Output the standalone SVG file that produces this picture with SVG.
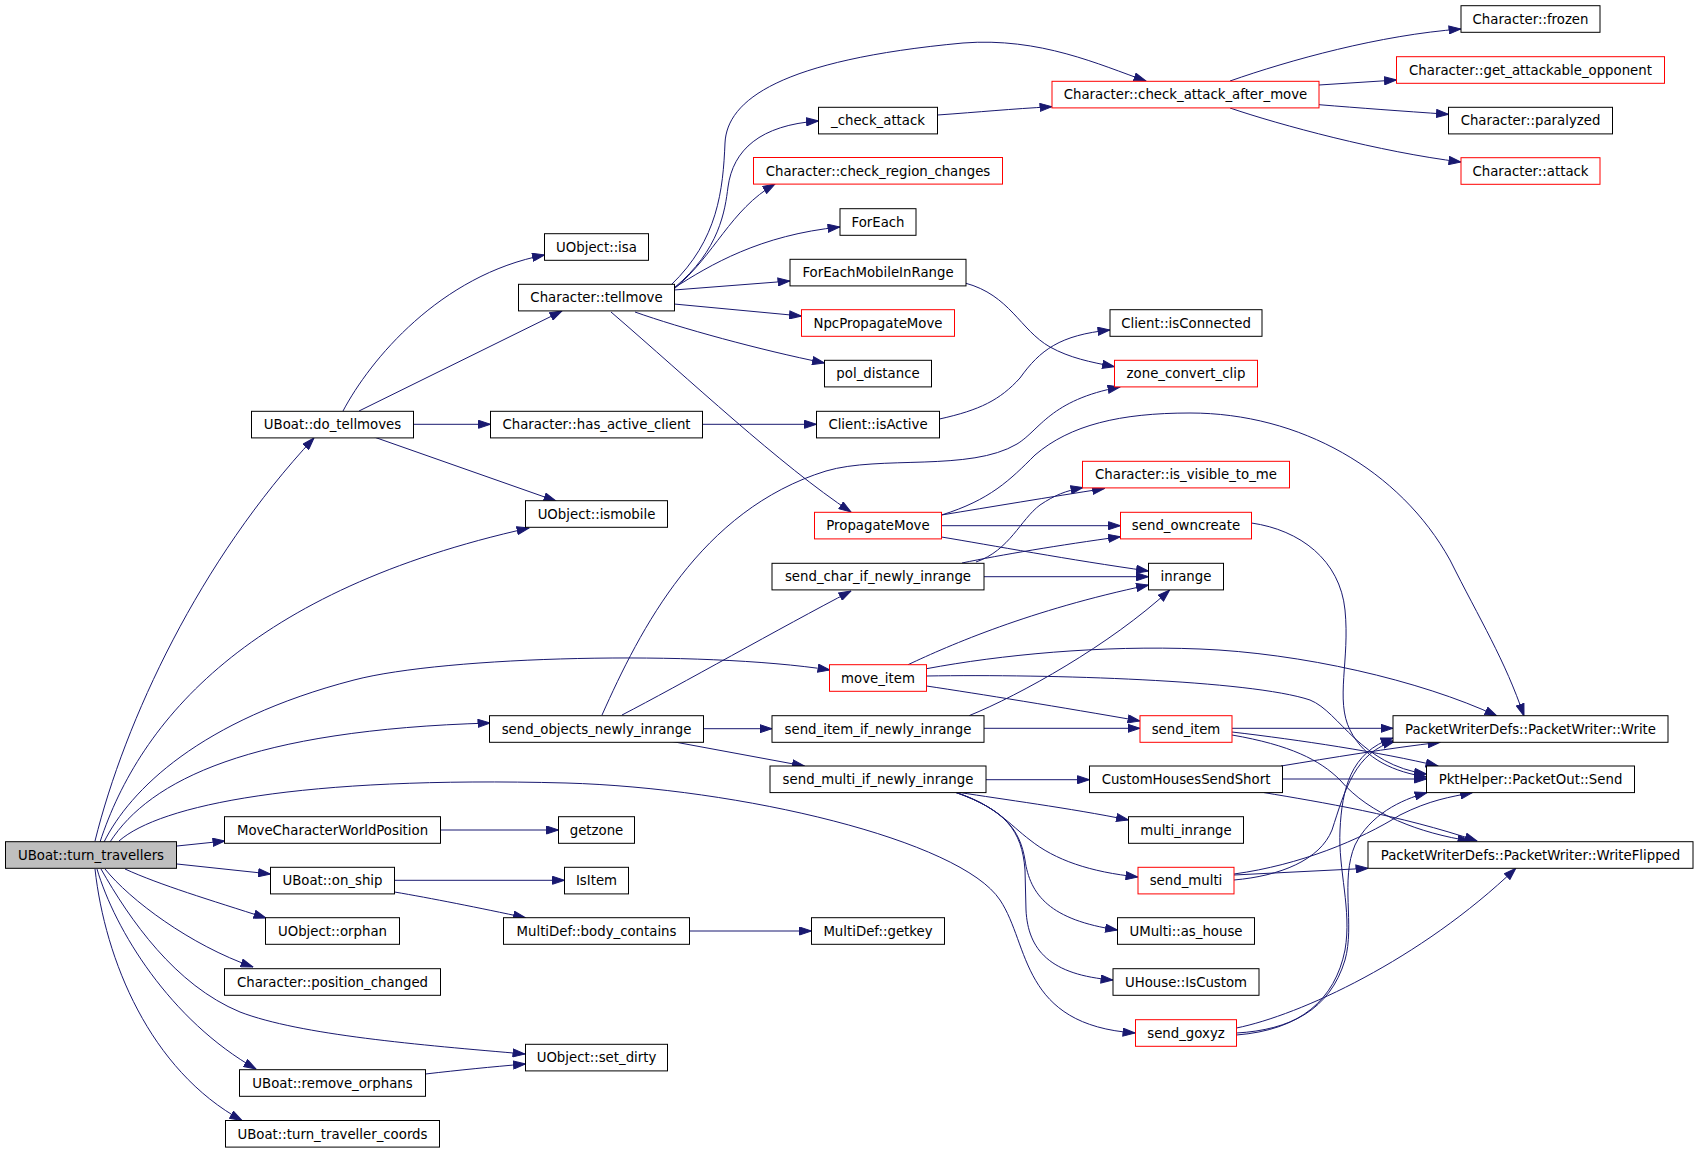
<svg xmlns="http://www.w3.org/2000/svg" width="1699" height="1152" viewBox="0 0 1699 1152">
<style>
.node rect{fill:#fff;stroke:#000;stroke-width:1}
.red rect{stroke:#f00}
.root rect{fill:#bfbfbf}
.node text{font-family:"DejaVu Sans","Liberation Sans",sans-serif;font-size:13.3px;text-anchor:middle;fill:#000}
.edges path{fill:none;stroke:#191970;stroke-width:1;marker-end:url(#ah)}
</style>
<defs>
<marker id="ah" viewBox="0 0 13 9" refX="12.5" refY="4.5" markerWidth="13" markerHeight="9" orient="auto" markerUnits="userSpaceOnUse">
<path d="M0.5,0.5 L12.5,4.5 L0.5,8.5 z" fill="#191970" stroke="#191970"/>
</marker>
</defs>
<rect x="0" y="0" width="1699" height="1152" fill="#fff"/>
<g class="edges">
<path d="M95,841 C125,720 200,560 314,438"/>
<path d="M100,842 C140,720 250,590 529,528"/>
<path d="M104,842 C130,790 200,720 354,680 C446,656 700,650 830,670"/>
<path d="M110,842 C150,780 250,730 490,723"/>
<path d="M119,841 C160,805 300,776 566,783 C740,788 960,840 1000,900 C1030,945 1020,1025 1135,1033"/>
<path d="M177,846 L225,841"/>
<path d="M177,864 L270.5,874"/>
<path d="M125,869 C160,885 210,900 266,918"/>
<path d="M105,869 C130,900 190,945 253,967"/>
<path d="M101,869 C130,920 175,985 240,1012 C300,1035 420,1045 525,1054"/>
<path d="M97,869 C115,930 170,1020 256,1069"/>
<path d="M95,869 C105,960 150,1070 242,1120.5"/>
<path d="M343,411 C370,360 440,275 544.5,255"/>
<path d="M359,411 L562,311"/>
<path d="M413.5,424.3 L490.5,424.3"/>
<path d="M374,437 L556,501"/>
<path d="M671,285 C718,240 723,190 725,143 C727,100 780,60 963,43 C1040,37 1100,65 1146,81"/>
<path d="M674,288 C720,250 725,210 728,187 C733,150 760,125 818.5,121"/>
<path d="M674,289 C715,255 730,210 775,184"/>
<path d="M674,288 C710,265 760,235 840,227"/>
<path d="M674,290 L790,281"/>
<path d="M674,304 L801.5,316"/>
<path d="M635,312 C680,328 760,350 824.5,363"/>
<path d="M611,312 C690,380 780,465 851,512"/>
<path d="M937.6,115 C980,112 1010,109 1052,106.7"/>
<path d="M1230,81 C1290,60 1380,35 1461,29"/>
<path d="M1319,85 L1396.5,80"/>
<path d="M1319,104.7 C1360,108 1400,111 1448.5,114.3"/>
<path d="M1230,108 C1280,125 1380,152 1461,162"/>
<path d="M965,283 C1010,295 1020,330 1050,347 C1070,358 1090,362 1114.5,366.7"/>
<path d="M702.5,424.3 L816.5,424.3"/>
<path d="M939.5,419 C980,410 1000,400 1020,378 C1040,350 1060,335 1110,330"/>
<path d="M602,715 C640,630 700,510 826,471 C880,455 970,472 1017,444 C1040,430 1050,400 1120,387"/>
<path d="M622,715 C680,685 780,628 851,591"/>
<path d="M703.5,728.7 L772,728.7"/>
<path d="M671,741.3 L804.4,766"/>
<path d="M941.5,515 C990,507 1050,497 1104.6,488.5"/>
<path d="M941.5,525.7 L1120.5,525.7"/>
<path d="M941.5,537 C990,545 1070,560 1148.5,571"/>
<path d="M941.5,515 C990,500 1010,480 1035,455 C1070,425 1120,413 1190,413 C1300,413 1400,470 1450,560 C1480,620 1505,660 1524,716"/>
<path d="M976,562 C1010,550 1020,520 1040,505 C1055,495 1065,491 1083,487.5"/>
<path d="M962,563 C1000,555 1060,545 1120.5,536.7"/>
<path d="M984,576.7 L1148.5,576.7"/>
<path d="M908,664.7 C950,645 1030,610 1148.5,585"/>
<path d="M926.5,668.7 C1000,655 1100,645 1200,649 C1300,653 1420,680 1497,716"/>
<path d="M926.5,676 C1050,674 1250,680 1310,700 C1340,712 1360,765 1426.5,774"/>
<path d="M926.5,686 C980,694 1060,707 1140,721"/>
<path d="M969,715.7 C1020,695 1110,645 1169.6,590"/>
<path d="M984,728.3 L1140,728.3"/>
<path d="M986,779.7 L1089.5,779.7"/>
<path d="M960,792.5 C1000,799 1070,808 1128.5,820"/>
<path d="M956,792.5 C995,805 1010,825 1030,840 C1055,860 1090,872 1138,877"/>
<path d="M956,792.5 C1005,810 1020,830 1025,860 C1030,895 1050,920 1117.5,930"/>
<path d="M956,792.5 C1005,810 1022,830 1025,870 L1026,910 C1028,950 1050,975 1113,980"/>
<path d="M1282.5,779 L1426.5,779"/>
<path d="M1281,766 C1330,758 1390,748 1440,742.3"/>
<path d="M1264,792.6 C1320,802 1400,815 1477,841"/>
<path d="M1232,728.3 L1393,728.3"/>
<path d="M1232,732 C1300,740 1380,752 1438,766"/>
<path d="M1232,735 C1290,745 1320,760 1340,780 C1370,815 1420,833 1470,841"/>
<path d="M1234,880 C1280,876 1320,860 1332,830 C1345,790 1355,752 1395,741"/>
<path d="M1234,874 C1300,865 1360,840 1400,815 C1430,800 1450,797 1472.5,792.6"/>
<path d="M1234,875 L1368,868.3"/>
<path d="M1236.5,1028 C1300,1015 1420,960 1515.8,868.3"/>
<path d="M1236.5,1033 C1290,1030 1330,1010 1345,960 C1355,925 1340,880 1355,845 C1370,815 1400,800 1427,792.6"/>
<path d="M1236.5,1035 C1300,1030 1335,1000 1345,950 C1352,910 1338,870 1340,830 C1342,790 1350,752 1393,738"/>
<path d="M1251.5,523 C1300,530 1340,560 1345,610 C1350,660 1335,700 1350,730 C1365,760 1395,772 1426.5,777"/>
<path d="M440.5,830 L558.5,830"/>
<path d="M394.5,880.3 L564.5,880.3"/>
<path d="M394.5,892 C430,898 480,908 525.5,917.7"/>
<path d="M689.5,931 L811.5,931"/>
<path d="M425.5,1074 C460,1070 490,1067 525.5,1064"/>
</g>
<g id="n_turn" class="node root"><rect x="5.5" y="841.7" width="171" height="26.6"/><text x="91" y="859.7">UBoat::turn_travellers</text></g>
<g id="n_dotell" class="node"><rect x="251.5" y="411.3" width="162" height="26.6"/><text x="332.5" y="429.3">UBoat::do_tellmoves</text></g>
<g id="n_mcwp" class="node"><rect x="224.5" y="816.7" width="216" height="26.6"/><text x="332.5" y="834.7">MoveCharacterWorldPosition</text></g>
<g id="n_onship" class="node"><rect x="270.5" y="867.3" width="124" height="26.6"/><text x="332.5" y="885.3">UBoat::on_ship</text></g>
<g id="n_orphan" class="node"><rect x="265.5" y="917.7" width="134" height="26.6"/><text x="332.5" y="935.7">UObject::orphan</text></g>
<g id="n_poschg" class="node"><rect x="224.5" y="968.7" width="216" height="26.6"/><text x="332.5" y="986.7">Character::position_changed</text></g>
<g id="n_remorph" class="node"><rect x="239.5" y="1069.7" width="186" height="26.6"/><text x="332.5" y="1087.7">UBoat::remove_orphans</text></g>
<g id="n_ttc" class="node"><rect x="225.5" y="1120.5" width="214" height="26.6"/><text x="332.5" y="1138.5">UBoat::turn_traveller_coords</text></g>
<g id="n_isa" class="node"><rect x="544.5" y="233.7" width="104" height="26.6"/><text x="596.5" y="251.7">UObject::isa</text></g>
<g id="n_tellmove" class="node"><rect x="518.5" y="284.3" width="156" height="26.6"/><text x="596.5" y="302.3">Character::tellmove</text></g>
<g id="n_hac" class="node"><rect x="490.5" y="411.3" width="212" height="26.6"/><text x="596.5" y="429.3">Character::has_active_client</text></g>
<g id="n_ismobile" class="node"><rect x="525.5" y="500.7" width="142" height="26.6"/><text x="596.5" y="518.7">UObject::ismobile</text></g>
<g id="n_sonir" class="node"><rect x="489.5" y="715.7" width="214" height="26.6"/><text x="596.5" y="733.7">send_objects_newly_inrange</text></g>
<g id="n_getzone" class="node"><rect x="558.5" y="816.7" width="76" height="26.6"/><text x="596.5" y="834.7">getzone</text></g>
<g id="n_isitem" class="node"><rect x="564.5" y="867.3" width="64" height="26.6"/><text x="596.5" y="885.3">IsItem</text></g>
<g id="n_bodyc" class="node"><rect x="503.5" y="917.7" width="186" height="26.6"/><text x="596.5" y="935.7">MultiDef::body_contains</text></g>
<g id="n_setdirty" class="node"><rect x="525.5" y="1044.3" width="142" height="26.6"/><text x="596.5" y="1062.3">UObject::set_dirty</text></g>
<g id="n_getkey" class="node"><rect x="811.5" y="917.7" width="133" height="26.6"/><text x="878" y="935.7">MultiDef::getkey</text></g>
<g id="n_chkatk" class="node"><rect x="818.5" y="107.3" width="119" height="26.6"/><text x="878" y="125.3">_check_attack</text></g>
<g id="n_crc" class="node red"><rect x="753.5" y="157.5" width="249" height="26.6"/><text x="878" y="175.5">Character::check_region_changes</text></g>
<g id="n_foreach" class="node"><rect x="840" y="208.7" width="76" height="26.6"/><text x="878" y="226.7">ForEach</text></g>
<g id="n_femir" class="node"><rect x="790" y="259.3" width="176" height="26.6"/><text x="878" y="277.3">ForEachMobileInRange</text></g>
<g id="n_npm" class="node red"><rect x="801.5" y="309.7" width="153" height="26.6"/><text x="878" y="327.7">NpcPropagateMove</text></g>
<g id="n_pold" class="node"><rect x="824.5" y="360.3" width="107" height="26.6"/><text x="878" y="378.3">pol_distance</text></g>
<g id="n_isactive" class="node"><rect x="816.5" y="411.3" width="123" height="26.6"/><text x="878" y="429.3">Client::isActive</text></g>
<g id="n_propm" class="node red"><rect x="814.5" y="512.3" width="127" height="26.6"/><text x="878" y="530.3">PropagateMove</text></g>
<g id="n_scinr" class="node"><rect x="772" y="563.3" width="212" height="26.6"/><text x="878" y="581.3">send_char_if_newly_inrange</text></g>
<g id="n_moveitem" class="node red"><rect x="829.5" y="664.7" width="97" height="26.6"/><text x="878" y="682.7">move_item</text></g>
<g id="n_siinr" class="node"><rect x="772" y="715.7" width="212" height="26.6"/><text x="878" y="733.7">send_item_if_newly_inrange</text></g>
<g id="n_sminr" class="node"><rect x="770" y="766" width="216" height="26.6"/><text x="878" y="784">send_multi_if_newly_inrange</text></g>
<g id="n_caam" class="node red"><rect x="1052" y="81.3" width="267" height="26.6"/><text x="1185.5" y="99.3">Character::check_attack_after_move</text></g>
<g id="n_isconn" class="node"><rect x="1110" y="309.7" width="152" height="26.6"/><text x="1186" y="327.7">Client::isConnected</text></g>
<g id="n_zcc" class="node red"><rect x="1114.5" y="360.3" width="143" height="26.6"/><text x="1186" y="378.3">zone_convert_clip</text></g>
<g id="n_ivtm" class="node red"><rect x="1082.5" y="461.3" width="207" height="26.6"/><text x="1186" y="479.3">Character::is_visible_to_me</text></g>
<g id="n_sowncr" class="node red"><rect x="1120.5" y="512.3" width="131" height="26.6"/><text x="1186" y="530.3">send_owncreate</text></g>
<g id="n_inrange" class="node"><rect x="1148.5" y="563.3" width="75" height="26.6"/><text x="1186" y="581.3">inrange</text></g>
<g id="n_senditem" class="node red"><rect x="1140" y="715.7" width="92" height="26.6"/><text x="1186" y="733.7">send_item</text></g>
<g id="n_chss" class="node"><rect x="1089.5" y="766" width="193" height="26.6"/><text x="1186" y="784">CustomHousesSendShort</text></g>
<g id="n_minr" class="node"><rect x="1128.5" y="816.7" width="115" height="26.6"/><text x="1186" y="834.7">multi_inrange</text></g>
<g id="n_sendmulti" class="node red"><rect x="1138" y="867.3" width="96" height="26.6"/><text x="1186" y="885.3">send_multi</text></g>
<g id="n_ashouse" class="node"><rect x="1117.5" y="917.7" width="137" height="26.6"/><text x="1186" y="935.7">UMulti::as_house</text></g>
<g id="n_iscustom" class="node"><rect x="1113" y="968.7" width="146" height="26.6"/><text x="1186" y="986.7">UHouse::IsCustom</text></g>
<g id="n_goxyz" class="node red"><rect x="1135.5" y="1019.7" width="101" height="26.6"/><text x="1186" y="1037.7">send_goxyz</text></g>
<g id="n_frozen" class="node"><rect x="1461" y="5.7" width="139" height="26.6"/><text x="1530.5" y="23.7">Character::frozen</text></g>
<g id="n_gao" class="node red"><rect x="1396.5" y="56.7" width="268" height="26.6"/><text x="1530.5" y="74.7">Character::get_attackable_opponent</text></g>
<g id="n_paral" class="node"><rect x="1448.5" y="107.3" width="164" height="26.6"/><text x="1530.5" y="125.3">Character::paralyzed</text></g>
<g id="n_attack" class="node red"><rect x="1461" y="157.7" width="139" height="26.6"/><text x="1530.5" y="175.7">Character::attack</text></g>
<g id="n_write" class="node"><rect x="1393" y="715.7" width="275" height="26.6"/><text x="1530.5" y="733.7">PacketWriterDefs::PacketWriter::Write</text></g>
<g id="n_send" class="node"><rect x="1426.5" y="766" width="208" height="26.6"/><text x="1530.5" y="784">PktHelper::PacketOut::Send</text></g>
<g id="n_wflip" class="node"><rect x="1368" y="841.7" width="325" height="26.6"/><text x="1530.5" y="859.7">PacketWriterDefs::PacketWriter::WriteFlipped</text></g>
</svg>
